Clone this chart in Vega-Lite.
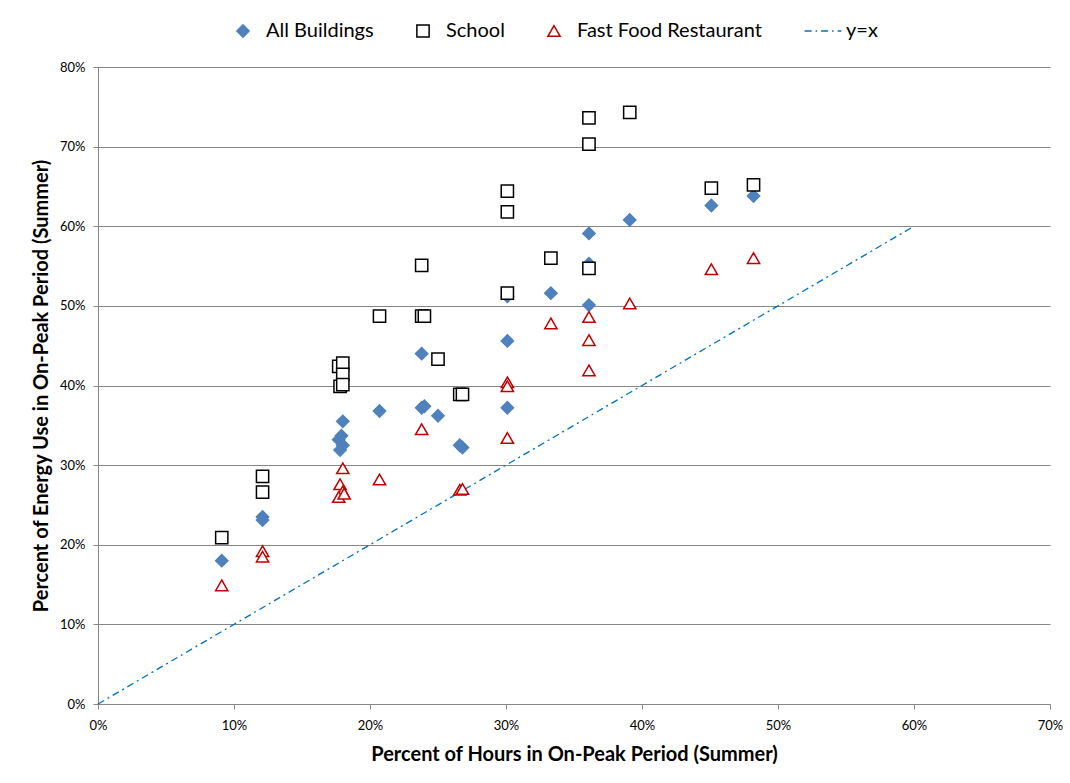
{
  "$schema": "https://vega.github.io/schema/vega-lite/v6.json",
  "width": 952,
  "height": 637,
  "autosize": {"type": "none"},
  "padding": {"left": 98, "top": 67, "right": 20, "bottom": 79},
  "background": "white",
  "config": {
    "view": {"stroke": null},
    "font": "Lato",
    "axis": {
      "labelFont": "Lato",
      "labelFontSize": 13,
      "labelColor": "#000000",
      "labelFlush": false,
      "titleFont": "Lato",
      "titleFontSize": 20,
      "titleFontWeight": "bold",
      "titleColor": "#000000",
      "domainColor": "#868686",
      "tickColor": "#868686",
      "tickSize": 5,
      "gridColor": "#868686",
      "gridWidth": 1
    }
  },
  "layer": [
    {
      "data": {
        "values": [
          {"series": "y=x", "x": 0, "y": 0},
          {"series": "y=x", "x": 0.6, "y": 0.6}
        ]
      },
      "mark": {"type": "line", "strokeDash": [7, 4, 2, 4], "strokeWidth": 1.3},
      "encoding": {
        "x": {"field": "x", "type": "quantitative"},
        "y": {"field": "y", "type": "quantitative"},
        "stroke": {"field": "series", "type": "nominal"}
      }
    },
    {
      "data": {
        "values": [
          {"series": "All Buildings", "x": 0.091, "y": 0.180},
          {"series": "All Buildings", "x": 0.121, "y": 0.235},
          {"series": "All Buildings", "x": 0.121, "y": 0.231},
          {"series": "All Buildings", "x": 0.180, "y": 0.355},
          {"series": "All Buildings", "x": 0.179, "y": 0.337},
          {"series": "All Buildings", "x": 0.177, "y": 0.332},
          {"series": "All Buildings", "x": 0.180, "y": 0.325},
          {"series": "All Buildings", "x": 0.178, "y": 0.319},
          {"series": "All Buildings", "x": 0.207, "y": 0.368},
          {"series": "All Buildings", "x": 0.238, "y": 0.440},
          {"series": "All Buildings", "x": 0.238, "y": 0.372},
          {"series": "All Buildings", "x": 0.240, "y": 0.374},
          {"series": "All Buildings", "x": 0.250, "y": 0.362},
          {"series": "All Buildings", "x": 0.266, "y": 0.325},
          {"series": "All Buildings", "x": 0.268, "y": 0.322},
          {"series": "All Buildings", "x": 0.301, "y": 0.512},
          {"series": "All Buildings", "x": 0.301, "y": 0.456},
          {"series": "All Buildings", "x": 0.301, "y": 0.372},
          {"series": "All Buildings", "x": 0.333, "y": 0.516},
          {"series": "All Buildings", "x": 0.361, "y": 0.591},
          {"series": "All Buildings", "x": 0.361, "y": 0.553},
          {"series": "All Buildings", "x": 0.361, "y": 0.501},
          {"series": "All Buildings", "x": 0.391, "y": 0.608},
          {"series": "All Buildings", "x": 0.451, "y": 0.626},
          {"series": "All Buildings", "x": 0.482, "y": 0.638},
          {"series": "School", "x": 0.091, "y": 0.209},
          {"series": "School", "x": 0.121, "y": 0.286},
          {"series": "School", "x": 0.121, "y": 0.266},
          {"series": "School", "x": 0.177, "y": 0.424},
          {"series": "School", "x": 0.180, "y": 0.428},
          {"series": "School", "x": 0.180, "y": 0.414},
          {"series": "School", "x": 0.178, "y": 0.399},
          {"series": "School", "x": 0.180, "y": 0.401},
          {"series": "School", "x": 0.207, "y": 0.487},
          {"series": "School", "x": 0.238, "y": 0.551},
          {"series": "School", "x": 0.238, "y": 0.487},
          {"series": "School", "x": 0.240, "y": 0.487},
          {"series": "School", "x": 0.250, "y": 0.433},
          {"series": "School", "x": 0.266, "y": 0.389},
          {"series": "School", "x": 0.268, "y": 0.389},
          {"series": "School", "x": 0.301, "y": 0.644},
          {"series": "School", "x": 0.301, "y": 0.618},
          {"series": "School", "x": 0.301, "y": 0.516},
          {"series": "School", "x": 0.333, "y": 0.560},
          {"series": "School", "x": 0.361, "y": 0.736},
          {"series": "School", "x": 0.361, "y": 0.703},
          {"series": "School", "x": 0.361, "y": 0.547},
          {"series": "School", "x": 0.391, "y": 0.743},
          {"series": "School", "x": 0.451, "y": 0.648},
          {"series": "School", "x": 0.482, "y": 0.652},
          {"series": "Fast Food Restaurant", "x": 0.091, "y": 0.149},
          {"series": "Fast Food Restaurant", "x": 0.121, "y": 0.192},
          {"series": "Fast Food Restaurant", "x": 0.121, "y": 0.185},
          {"series": "Fast Food Restaurant", "x": 0.180, "y": 0.296},
          {"series": "Fast Food Restaurant", "x": 0.178, "y": 0.276},
          {"series": "Fast Food Restaurant", "x": 0.180, "y": 0.267},
          {"series": "Fast Food Restaurant", "x": 0.177, "y": 0.260},
          {"series": "Fast Food Restaurant", "x": 0.181, "y": 0.264},
          {"series": "Fast Food Restaurant", "x": 0.207, "y": 0.282},
          {"series": "Fast Food Restaurant", "x": 0.238, "y": 0.345},
          {"series": "Fast Food Restaurant", "x": 0.266, "y": 0.269},
          {"series": "Fast Food Restaurant", "x": 0.268, "y": 0.270},
          {"series": "Fast Food Restaurant", "x": 0.301, "y": 0.404},
          {"series": "Fast Food Restaurant", "x": 0.301, "y": 0.399},
          {"series": "Fast Food Restaurant", "x": 0.301, "y": 0.334},
          {"series": "Fast Food Restaurant", "x": 0.333, "y": 0.478},
          {"series": "Fast Food Restaurant", "x": 0.361, "y": 0.486},
          {"series": "Fast Food Restaurant", "x": 0.361, "y": 0.457},
          {"series": "Fast Food Restaurant", "x": 0.361, "y": 0.419},
          {"series": "Fast Food Restaurant", "x": 0.391, "y": 0.503},
          {"series": "Fast Food Restaurant", "x": 0.451, "y": 0.546},
          {"series": "Fast Food Restaurant", "x": 0.482, "y": 0.560}
        ]
      },
      "mark": {"type": "point", "size": 150, "strokeWidth": 1.5, "opacity": 1},
      "encoding": {
        "x": {
          "field": "x",
          "type": "quantitative",
          "title": "Percent of Hours in On-Peak Period (Summer)",
          "scale": {"domain": [0, 0.7], "nice": false, "zero": false},
          "axis": {
            "format": ".0%",
            "values": [0, 0.1, 0.2, 0.3, 0.4, 0.5, 0.6, 0.7],
            "grid": false,
            "labelPadding": 10,
            "titlePadding": 12
          }
        },
        "y": {
          "field": "y",
          "type": "quantitative",
          "title": "Percent of Energy Use in On-Peak Period (Summer)",
          "scale": {"domain": [0, 0.8], "nice": false},
          "axis": {
            "format": ".0%",
            "values": [0, 0.1, 0.2, 0.3, 0.4, 0.5, 0.6, 0.7, 0.8],
            "grid": true,
            "labelPadding": 8,
            "titlePadding": 8
          }
        },
        "shape": {
          "field": "series",
          "type": "nominal",
          "scale": {
            "domain": ["All Buildings", "School", "Fast Food Restaurant", "y=x"],
            "range": [
              "diamond",
              "square",
              "triangle-up",
              "M-3,0L-1.86,0M-1.21,0L-0.96,0M-0.31,0L0.83,0M1.48,0L1.73,0M2.38,0L3,0"
            ]
          },
          "legend": {
            "title": null,
            "orient": "none",
            "direction": "horizontal",
            "legendX": 135,
            "legendY": -46,
            "padding": 0,
            "columnPadding": 39,
            "labelFont": "Lato",
            "labelFontSize": 20,
            "labelColor": "#000000",
            "labelLimit": 0,
            "labelOffset": 13,
            "symbolSize": 150,
            "symbolStrokeWidth": 1.5
          }
        },
        "fill": {
          "field": "series",
          "type": "nominal",
          "scale": {
            "domain": ["All Buildings", "School", "Fast Food Restaurant", "y=x"],
            "range": ["#4F81BD", "#FFFFFF", "#FFFFFF", "transparent"]
          }
        },
        "stroke": {
          "field": "series",
          "type": "nominal",
          "scale": {
            "domain": ["All Buildings", "School", "Fast Food Restaurant", "y=x"],
            "range": ["#4F81BD", "#000000", "#C00000", "#0070C0"]
          }
        }
      }
    }
  ]
}
